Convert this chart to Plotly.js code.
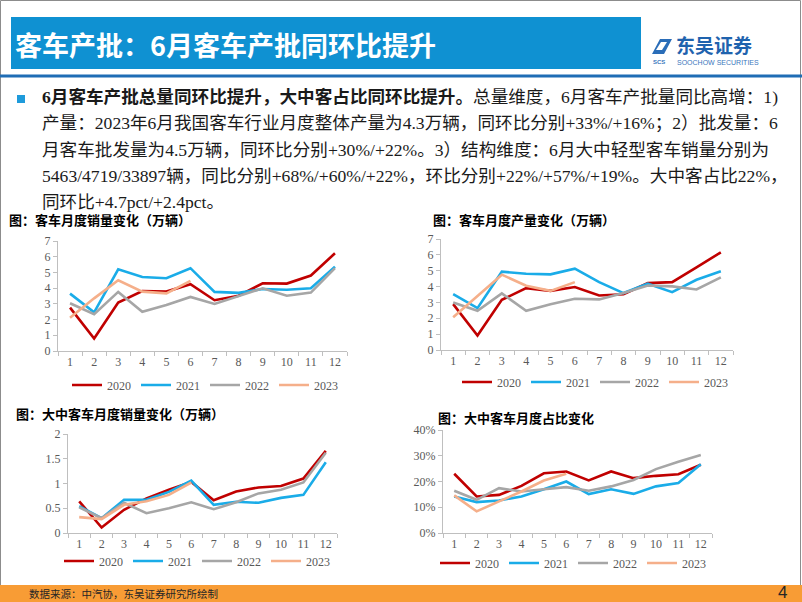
<!DOCTYPE html>
<html>
<head>
<meta charset="utf-8">
<script src="https://cdn.plot.ly/plotly-3.0.1.min.js"></script>
<style>html,body{margin:0;padding:0;background:#fff;}#chart{width:802px;height:602px;}</style>
</head>
<body>
<div id="chart"></div>
<script>
// ---------------- DATA ----------------
const months = ['1','2','3','4','5','6','7','8','9','10','11','12'];
const years = ['2020','2021','2022','2023'];

// 客车月度销量（万辆）
const sales2020 = [2.76,0.80,3.08,3.82,3.78,4.25,3.23,3.52,4.31,4.29,4.80,6.22];
const sales2021 = [3.65,2.46,5.20,4.71,4.63,5.27,3.76,3.70,3.95,3.90,3.99,5.37];
const sales2022 = [3.04,2.34,3.76,2.50,2.93,3.44,2.99,3.50,3.99,3.52,3.72,5.27];
const sales2023 = [2.12,3.35,4.50,3.78,3.67,4.46];

// 客车月度产量（万辆）
const prod2020 = [2.89,0.91,3.16,3.90,3.73,3.97,3.44,3.52,4.22,4.28,5.21,6.16];
const prod2021 = [3.52,2.64,4.94,4.81,4.77,5.13,4.28,3.59,4.18,3.65,4.43,4.96];
const prod2022 = [3.00,2.47,3.57,2.47,2.89,3.23,3.19,3.59,4.07,4.01,3.82,4.58];
const prod2023 = [2.07,3.44,4.75,4.05,3.73,4.28];

// 大中客车月度销量（万辆）
const lm2020 = [0.64,0.11,0.47,0.70,0.875,1.03,0.66,0.84,0.92,0.95,1.10,1.66];
const lm2021 = [0.54,0.30,0.67,0.67,0.83,1.06,0.57,0.63,0.61,0.71,0.77,1.43];
const lm2022 = [0.52,0.30,0.61,0.40,0.50,0.62,0.48,0.62,0.80,0.875,1.02,1.62];
const lm2023 = [0.32,0.28,0.57,0.64,0.77,1.02];

// 大中客车月度占比
const share2020 = [0.230,0.142,0.148,0.183,0.232,0.239,0.204,0.239,0.213,0.222,0.228,0.265];
const share2021 = [0.142,0.120,0.126,0.142,0.170,0.200,0.151,0.170,0.152,0.181,0.194,0.267];
const share2022 = [0.164,0.129,0.174,0.161,0.170,0.178,0.164,0.181,0.206,0.248,0.277,0.303];
const share2023 = [0.146,0.084,0.123,0.161,0.204,0.230];

// Text
const headerTitle = '客车产批：6月客车产批同环比提升';
const paraLines = [
  '<b>6月客车产批总量同环比提升，大中客占比同环比提升。</b>总量维度，6月客车产批量同比高增：1)',
  '产量：2023年6月我国客车行业月度整体产量为4.3万辆，同环比分别+33%/+16%；2）批发量：6',
  '月客车批发量为4.5万辆，同环比分别+30%/+22%。3）结构维度：6月大中轻型客车销量分别为',
  '5463/4719/33897辆，同比分别+68%/+60%/+22%，环比分别+22%/+57%/+19%。大中客占比22%，',
  '同环比+4.7pct/+2.4pct。'
];
const chartTitles = ['图：客车月度销量变化（万辆）','图：客车月度产量变化（万辆）','图：大中客车月度销量变化（万辆）','图：大中客车月度占比变化'];
const sourceText = '数据来源：中汽协，东吴证券研究所绘制';
const pageNo = '4';

// ---------------- STYLE ----------------
const W = 802, H = 602;
const px = v => v / W;
const py = v => 1 - v / H;
const colors = ['#C00000', '#1AACE8', '#A6A6A6', '#F5AF8A'];
const serif = 'Liberation Serif, Times New Roman, serif';
const cjk = 'Liberation Serif, Noto Sans CJK SC, sans-serif';
const sansCJK = 'Noto Sans CJK SC, sans-serif';

const panels = [
  {series:[sales2020,sales2021,sales2022,sales2023], ax:'', legend:'legend'},
  {series:[prod2020,prod2021,prod2022,prod2023], ax:'2', legend:'legend2'},
  {series:[lm2020,lm2021,lm2022,lm2023], ax:'3', legend:'legend3'},
  {series:[share2020,share2021,share2022,share2023], ax:'4', legend:'legend4'}
];

const traces = [];
panels.forEach(p => {
  p.series.forEach((vals, i) => {
    traces.push({
      type:'scatter', mode:'lines',
      x: months.slice(0, vals.length), y: vals,
      name: years[i],
      xaxis:'x' + p.ax, yaxis:'y' + p.ax,
      legend: p.legend,
      line:{color:colors[i], width:2.6},
      hoverinfo:'skip'
    });
  });
});

const axColor = '#BFBFBF';
const tickFont = {family:serif, size:12, color:'#595959'};
function xAx(dom, anchor){
  return {type:'category', domain:dom, anchor:anchor, range:[-0.5,11.5],
    tickson:'boundaries', ticks:'outside', ticklen:4, tickcolor:axColor,
    showline:true, linecolor:axColor, linewidth:1, showgrid:false, zeroline:false,
    tickfont:tickFont, fixedrange:true};
}
function yAx(dom, anchor, range, dtick, fmt){
  const o = {domain:dom, anchor:anchor, range:range, dtick:dtick, tick0:0,
    ticks:'outside', ticklen:4, tickcolor:axColor,
    showline:true, linecolor:axColor, linewidth:1, showgrid:false, zeroline:false,
    tickfont:tickFont, fixedrange:true};
  if (fmt) o.tickformat = fmt;
  return o;
}
function leg(cx, cy){
  return {orientation:'h', x:px(cx), xanchor:'center', y:py(cy), yanchor:'middle',
    font:{family:serif, size:12, color:'#595959'}, bgcolor:'rgba(0,0,0,0)',
    itemclick:false, itemdoubleclick:false, tracegroupgap:0};
}

const annotations = [];
function ann(text, x, y, font, xanchor){
  annotations.push({text:text, xref:'paper', yref:'paper', x:px(x), y:py(y),
    xanchor:xanchor||'left', yanchor:'middle', showarrow:false, font:font, align:'left'});
}
// Header
ann('<b>' + headerTitle + '</b>', 13, 44, {family:sansCJK, size:27, color:'#FFFFFF'});
ann('<b>东吴证券</b>', 674, 45, {family:sansCJK, size:19, color:'#1F63AE'});
ann('SOOCHOW SECURITIES', 675, 62, {family:'Liberation Sans, Arial, sans-serif', size:7, color:'#3A77BD'});
ann('<b>SCS</b>', 651, 62, {family:'Liberation Sans, Arial, sans-serif', size:6, color:'#3A77BD'});
// Paragraph
const lineYs = [97, 123, 150, 176, 202];
paraLines.forEach((t, i) => ann(t, 40, lineYs[i], {family:cjk, size:17.6, color:'#1A1A1A'}));
// Chart titles
ann('<b>' + chartTitles[0] + '</b>', 7, 220, {family:sansCJK, size:13, color:'#000000'});
ann('<b>' + chartTitles[1] + '</b>', 431, 220, {family:sansCJK, size:13, color:'#000000'});
ann('<b>' + chartTitles[2] + '</b>', 14, 413, {family:sansCJK, size:13, color:'#000000'});
ann('<b>' + chartTitles[3] + '</b>', 436, 417, {family:sansCJK, size:13, color:'#000000'});
// Footer
ann(sourceText, 27, 593, {family:sansCJK, size:10.5, color:'#262626'});
ann(pageNo, 789, 592, {family:'Liberation Sans, Arial, sans-serif', size:17, color:'#262626'}, 'right');

const shapes = [
  // outer frame
  {type:'rect', xref:'paper', yref:'paper', x0:px(0.5), x1:px(800.5), y0:py(601), y1:py(0.5), line:{color:'#8C8C8C', width:1}, fillcolor:'rgba(0,0,0,0)', layer:'below'},
  // header band
  {type:'rect', xref:'paper', yref:'paper', x0:px(11), x1:px(641), y0:py(69), y1:py(17), line:{width:0}, fillcolor:'#0F91D2', layer:'below'},
  // header underline
  {type:'line', xref:'paper', yref:'paper', x0:px(0), x1:px(802), y0:py(76), y1:py(76), line:{color:'#1F6DB5', width:3}},
  // logo icon
  {type:'path', xref:'paper', yref:'paper',
   path:`M ${px(652)} ${py(54)} L ${px(660)} ${py(39)} L ${px(672)} ${py(39)} L ${px(664)} ${py(54)} Z`,
   fillcolor:'#2A6DB8', line:{width:0}},
  {type:'path', xref:'paper', yref:'paper',
   path:`M ${px(656)} ${py(50)} L ${px(661)} ${py(42)} L ${px(667)} ${py(42)} L ${px(662)} ${py(50)} Z`,
   fillcolor:'#FFFFFF', line:{width:0}},
  // bullet square
  {type:'rect', xref:'paper', yref:'paper', x0:px(17), x1:px(25), y0:py(103), y1:py(95), line:{width:0}, fillcolor:'#1E9BDB'},
  // footer band
  {type:'rect', xref:'paper', yref:'paper', x0:px(0), x1:px(802), y0:py(602), y1:py(585), line:{width:0}, fillcolor:'#F89C35', layer:'below'}
];

const layout = {
  width:W, height:H, margin:{l:0,r:0,t:0,b:0},
  paper_bgcolor:'#FFFFFF', plot_bgcolor:'rgba(0,0,0,0)',
  showlegend:true,
  xaxis: xAx([px(58), px(347)], 'y'),
  yaxis: yAx([py(351), py(241)], 'x', [0,7], 1),
  xaxis2: xAx([px(441), px(733)], 'y2'),
  yaxis2: yAx([py(350), py(239)], 'x2', [0,7], 1),
  xaxis3: xAx([px(68), px(337)], 'y3'),
  yaxis3: yAx([py(533), py(434)], 'x3', [0,2], 0.5),
  xaxis4: xAx([px(443), px(712)], 'y4'),
  yaxis4: yAx([py(533), py(430)], 'x4', [0,0.4], 0.1, '.0%'),
  legend: leg(205, 385),
  legend2: leg(595, 382),
  legend3: leg(197, 561),
  legend4: leg(573, 563),
  annotations: annotations,
  shapes: shapes
};

Plotly.newPlot('chart', traces, layout, {staticPlot:true, displayModeBar:false});
</script>
</body>
</html>
